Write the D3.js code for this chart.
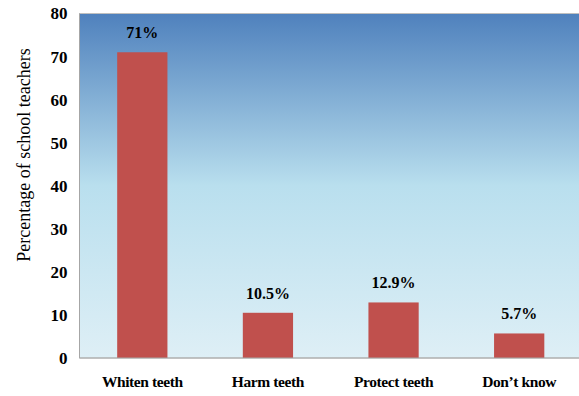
<!DOCTYPE html>
<html><head><meta charset="utf-8">
<script src="https://cdn.jsdelivr.net/npm/d3@7"></script>
<style>body{margin:0;background:#fff}svg{display:block}</style>
</head><body>
<script>
const categories = ["Whiten teeth", "Harm teeth", "Protect teeth", "Don\u2019t know"];
const values = [71, 10.5, 12.9, 5.7];
const valueLabels = ["71%", "10.5%", "12.9%", "5.7%"];
const yTicks = [0, 10, 20, 30, 40, 50, 60, 70, 80];
const yTitle = "Percentage of school teachers";

(function () {
const FONT = "Liberation Serif";
const W = 579, H = 396;
const svg = d3.select("body").append("svg").attr("width", W).attr("height", H);
const pLeft = 79.5, pRight = 582, pTop = 13.5, pBottom = 358;

const defs = svg.append("defs");
const g = defs.append("linearGradient").attr("id", "bg").attr("x1", 0).attr("y1", 0).attr("x2", 0).attr("y2", 1);
g.append("stop").attr("offset", "0%").attr("stop-color", "#4f81bd");
g.append("stop").attr("offset", "50%").attr("stop-color", "#b9dfee");
g.append("stop").attr("offset", "100%").attr("stop-color", "#deeff6");

const x = d3.scaleBand().domain(categories).range([pLeft, pRight]).paddingInner(0.6).paddingOuter(0.3);
const y = d3.scaleLinear().domain([0, 80]).range([pBottom, pTop]);

svg.append("rect").attr("x", pLeft).attr("y", pTop).attr("width", pRight - pLeft).attr("height", pBottom - pTop)
  .attr("fill", "url(#bg)").attr("stroke", "#bfbfbf").attr("stroke-width", 1);

svg.append("g").selectAll("rect").data(values).join("rect")
  .attr("x", (d, i) => x(categories[i]))
  .attr("y", d => y(d))
  .attr("width", x.bandwidth())
  .attr("height", d => y(0) - y(d))
  .attr("fill", "#c0504d");

svg.append("line").attr("x1", pLeft).attr("x2", pLeft).attr("y1", pTop).attr("y2", pBottom).attr("stroke", "#a6a6a6");
svg.append("line").attr("x1", pLeft).attr("x2", pRight).attr("y1", pBottom).attr("y2", pBottom).attr("stroke", "#a6a6a6");

const yAxis = svg.append("g").attr("transform", `translate(${pLeft},0)`)
  .call(d3.axisLeft(y).tickValues(yTicks).tickSize(0).tickPadding(12));
yAxis.select(".domain").remove();
yAxis.attr("font-family", FONT);
yAxis.selectAll("text").style("font-family", FONT).attr("font-size", 17).attr("font-weight", "bold").attr("fill", "#000");

const xAxis = svg.append("g").attr("transform", `translate(0,${pBottom})`)
  .call(d3.axisBottom(x).tickSize(0).tickPadding(18));
xAxis.select(".domain").remove();
xAxis.attr("font-family", FONT);
xAxis.selectAll("text").style("font-family", FONT).attr("font-size", 15.5).attr("font-weight", "bold").attr("fill", "#000").attr("letter-spacing", "-0.4px");

svg.append("g").selectAll("text").data(values).join("text")
  .attr("x", (d, i) => x(categories[i]) + x.bandwidth() / 2)
  .attr("y", d => y(d) - 14)
  .attr("text-anchor", "middle")
  .style("font-family", FONT)
  .attr("font-size", 16).attr("font-weight", "bold")
  .text((d, i) => valueLabels[i]);

svg.append("text").attr("transform", "translate(30,155) rotate(-90)")
  .attr("text-anchor", "middle").style("font-family", FONT).attr("font-size", 18)
  .text(yTitle);
})();
</script>
</body></html>
